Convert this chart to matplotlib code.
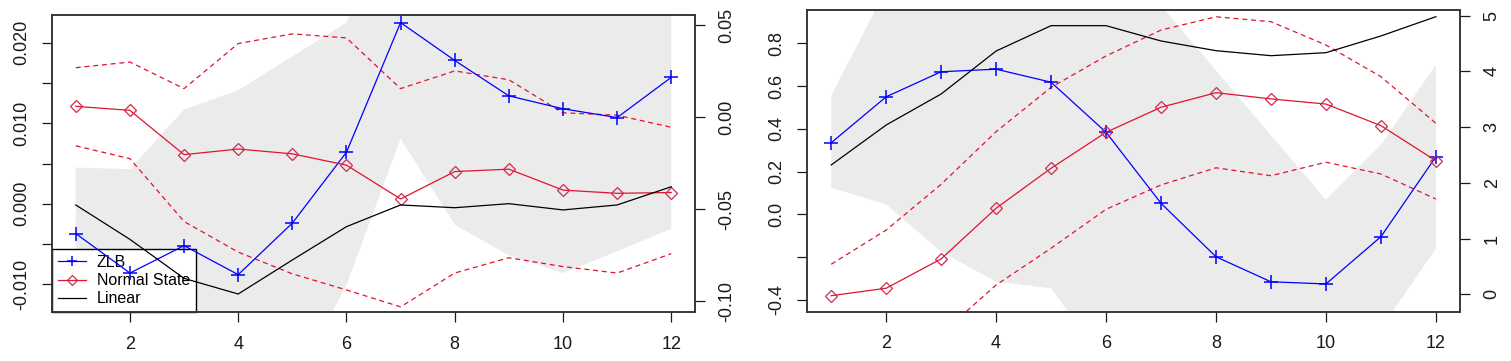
import numpy as np
import matplotlib
matplotlib.use("Agg")
import matplotlib.pyplot as plt

# horizon (quarters)
periods = np.arange(1, 13)

# --- left panel -------------------------------------------------------
zlb_left = [-0.0037, -0.0086, -0.0052, -0.0088, -0.0024, 0.0064,
            0.0225, 0.0178, 0.0134, 0.0118, 0.0107, 0.0157]
zlb_low_left = [-0.0118, -0.0215, -0.0222, -0.0317, -0.0230, -0.0101,
                0.0081, -0.0026, -0.0064, -0.0086, -0.0059, -0.0031]
zlb_high_left = [0.0045, 0.0043, 0.0117, 0.0141, 0.0183, 0.0225,
                 0.0369, 0.0382, 0.0332, 0.0322, 0.0273, 0.0344]
normal_left = [0.0121, 0.0116, 0.0061, 0.0068, 0.0062, 0.0048,
               0.0006, 0.0040, 0.0043, 0.0017, 0.0013, 0.0014]
normal_high_left = [0.0169, 0.0176, 0.0143, 0.0199, 0.0211, 0.0206,
                    0.0143, 0.0165, 0.0154, 0.0113, 0.0110, 0.0095]
normal_low_left = [0.0072, 0.0056, -0.0022, -0.0060, -0.0087, -0.0107,
                   -0.0128, -0.0086, -0.0067, -0.0078, -0.0086, -0.0062]
linear_left = [-0.0478, -0.0665, -0.0877, -0.0962, -0.0777, -0.0596,
               -0.0478, -0.0493, -0.0471, -0.0505, -0.0478, -0.0379]

# --- right panel ------------------------------------------------------
zlb_right = [0.335, 0.550, 0.667, 0.679, 0.618, 0.384,
             0.052, -0.198, -0.315, -0.325, -0.104, 0.270]
zlb_low_right = [0.125, 0.047, -0.174, -0.315, -0.345, -0.700,
                 -0.872, -1.068, -0.999, -0.718, -0.533, -0.160]
zlb_high_right = [0.555, 1.053, 1.509, 1.672, 1.581, 1.468,
                  0.976, 0.673, 0.370, 0.068, 0.325, 0.700]
normal_right = [-0.380, -0.345, -0.208, 0.029, 0.216, 0.384,
                0.501, 0.569, 0.540, 0.516, 0.415, 0.251]
normal_high_right = [-0.233, -0.073, 0.141, 0.387, 0.594, 0.741,
                     0.862, 0.924, 0.901, 0.792, 0.644, 0.426]
normal_low_right = [-0.527, -0.618, -0.558, -0.330, -0.158, 0.024,
                    0.138, 0.218, 0.181, 0.244, 0.189, 0.072]
linear_right = [2.321, 3.038, 3.595, 4.366, 4.821, 4.821,
                4.546, 4.372, 4.282, 4.336, 4.636, 4.982]

# tick labels
x_ticks = [2, 4, 6, 8, 10, 12]
left_ticks_a = [-0.010, -0.005, 0.000, 0.005, 0.010, 0.015, 0.020]
left_labels_a = ["-0.010", "", "0.000", "", "0.010", "", "0.020"]
right_ticks_a = [-0.10, -0.05, 0.00, 0.05]
right_labels_a = ["-0.10", "-0.05", "0.00", "0.05"]
left_ticks_b = [-0.4, -0.2, 0.0, 0.2, 0.4, 0.6, 0.8]
left_labels_b = ["-0.4", "", "0.0", "0.2", "0.4", "0.6", "0.8"]
right_ticks_b = [0, 1, 2, 3, 4, 5]
right_labels_b = ["0", "1", "2", "3", "4", "5"]

BLUE = "#0000FF"
RED = "#E0142E"
DIAMOND = "#CC2C50"
SHADE = "#EBEBEB"


def style_axis(ax, side):
    ax.tick_params(axis="both", direction="out", length=7, width=0.9,
                   labelsize=13, colors="#1a1a1a")
    ax.tick_params(axis="x", pad=10)
    ax.tick_params(axis="y", pad=9 if side == "left" else 10)
    for sp in ax.spines.values():
        sp.set_linewidth(1.1)
        sp.set_color("#333333")


def draw_panel(ax, zlb, zlb_lo, zlb_hi, normal, normal_hi, normal_lo, linear,
               ylim_left, ylim_right, ticks_l, labels_l, ticks_r, labels_r,
               with_legend=False):
    ax.fill_between(periods, zlb_lo, zlb_hi, color=SHADE, lw=0, zorder=1)
    l_zlb, = ax.plot(periods, zlb, color=BLUE, lw=0.9, marker="+", ms=9.5,
                     mew=1.1, zorder=3)
    l_norm, = ax.plot(periods, normal, color=RED, lw=0.9, marker="D", ms=6.4,
                      mfc="none", mec=DIAMOND, mew=0.9, zorder=3)
    ax.plot(periods, normal_hi, color=RED, lw=0.9, dashes=(4, 3), zorder=2)
    ax.plot(periods, normal_lo, color=RED, lw=0.9, dashes=(4, 3), zorder=2)
    ax.set_xlim(0.56, 12.44)
    ax.set_ylim(*ylim_left)
    ax.set_xticks(x_ticks, [str(t) for t in x_ticks])
    ax.set_yticks(ticks_l, labels_l, rotation=90, va="center")
    style_axis(ax, "left")

    ax2 = ax.twinx()
    l_lin, = ax2.plot(periods, linear, color="black", lw=0.9, zorder=3)
    ax2.set_ylim(*ylim_right)
    ax2.set_yticks(ticks_r, labels_r, rotation=90, va="center")
    style_axis(ax2, "right")

    if with_legend:
        leg = ax.legend([l_zlb, l_norm, l_lin], ["ZLB", "Normal State", "Linear"],
                        loc="lower left", borderaxespad=0, fontsize=11.5,
                        fancybox=False, framealpha=1, edgecolor="black",
                        handlelength=1.75, handletextpad=0.7, borderpad=0.35,
                        labelspacing=0.2, markerscale=0.75)
        leg.get_frame().set_linewidth(1.0)
        leg.set_zorder(1.5)


def main():
    plt.rcParams["font.family"] = ["Liberation Sans", "DejaVu Sans"]
    fig = plt.figure(figsize=(15.11, 3.61), dpi=100)

    ax_a = fig.add_axes([0.0344, 0.1357, 0.4256, 0.8227])
    draw_panel(ax_a, zlb_left, zlb_low_left, zlb_high_left, normal_left,
               normal_high_left, normal_low_left, linear_left,
               (-0.01344, 0.02344), (-0.10598, 0.05543),
               left_ticks_a, left_labels_a, right_ticks_a, right_labels_a,
               with_legend=True)

    ax_b = fig.add_axes([0.5341, 0.1366, 0.4322, 0.8357])
    draw_panel(ax_b, zlb_right, zlb_low_right, zlb_high_right, normal_right,
               normal_high_right, normal_low_right, linear_right,
               (-0.4547, 0.9557), (-0.312, 5.102),
               left_ticks_b, left_labels_b, right_ticks_b, right_labels_b)

    fig.savefig("out.png", dpi=100)


if __name__ == "__main__":
    main()
